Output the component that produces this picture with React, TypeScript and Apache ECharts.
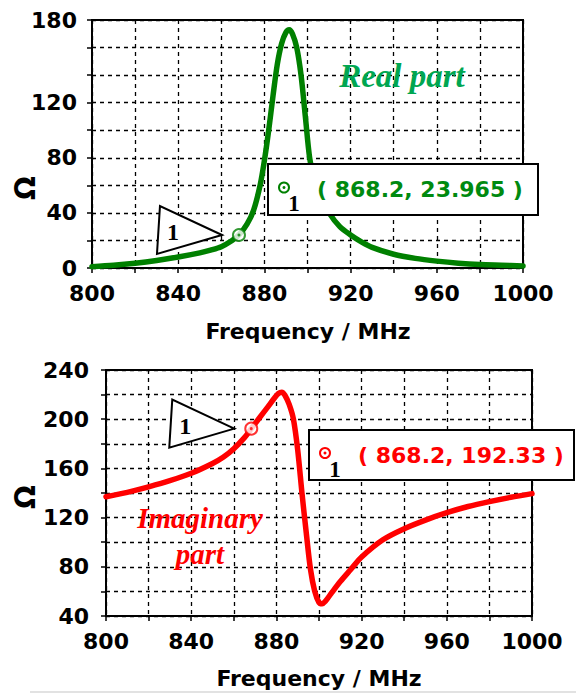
import React, { useEffect, useRef } from "react";
import * as echarts from "echarts";

// ---- data ----
const freqTicks = [800, 840, 880, 920, 960, 1000];
const realTicks = [0, 40, 80, 120, 180];
const imagTicks = [40, 80, 120, 160, 200, 240];

const freqReal = [800, 810, 820, 830, 840, 850, 855, 860, 865, 868.2, 872, 875, 878, 880, 882, 884, 886, 888, 890, 891.5, 893, 895, 897, 899, 901, 903, 906, 910, 915, 920, 925, 930, 940, 950, 960, 970, 980, 990, 1000];
const realVals = [1, 2, 3.5, 5.5, 8, 11, 13, 15.5, 20, 24, 32, 42, 60, 78, 100, 125, 148, 163, 171, 173, 170, 160, 140, 110, 80, 66, 52, 40, 30, 24, 19, 15, 10, 7, 5, 3.5, 2.5, 2, 1.5];

const freqImag = [800, 810, 820, 830, 840, 850, 855, 860, 865, 868.2, 872, 876, 879, 881, 882.5, 884, 886, 888, 890, 892, 894, 896, 898, 900, 901.5, 903, 906, 910, 915, 920, 930, 940, 950, 960, 970, 980, 990, 1000];
const imagVals = [137, 140.5, 145, 150, 156, 164, 169, 176, 185, 192.33, 201, 210, 217, 221, 222, 219.5, 212, 200, 175, 140, 108, 78, 60, 51, 50, 52, 59, 68, 78, 88, 102, 111, 118, 124, 129, 133, 136.5, 139.5];

const markerFreq = 868.2;
const markerReal = 23.965;
const markerImag = 192.33;

const GREEN = "#008000";
const GREEN_TXT = "#00a651";
const GREEN_LBL = "#008a10";
const RED = "#ff0000";
const SANS = "DejaVu Sans";
const SERIF = "Liberation Serif";

function axisX(gridIndex: number) {
  return {
    type: "value",
    gridIndex,
    min: 800,
    max: 1000,
    interval: 20,
    axisLine: { show: true, onZero: false, lineStyle: { color: "#000", width: 2 } },
    axisTick: { show: true, length: 5, lineStyle: { color: "#000", width: 1.5 } },
    axisLabel: {
      formatter: (v: number) => (freqTicks.includes(v) ? String(v) : ""),
      fontFamily: SANS,
      fontWeight: "bold",
      fontSize: 22,
      color: "#000",
      margin: 14,
    },
    splitLine: { show: true, lineStyle: { type: [4, 4], color: "#000", width: 1.3 } },
  };
}

function axisY(gridIndex: number, min: number, max: number, ticks: number[], margin: number) {
  return {
    type: "value",
    gridIndex,
    min,
    max,
    interval: 20,
    axisLine: { show: true, onZero: false, lineStyle: { color: "#000", width: 2 } },
    axisTick: { show: true, length: 5, lineStyle: { color: "#000", width: 1.5 } },
    axisLabel: {
      formatter: (v: number) => (ticks.includes(v) ? String(v) : ""),
      fontFamily: SANS,
      fontWeight: "bold",
      fontSize: 22,
      color: "#000",
      margin,
    },
    splitLine: { show: true, lineStyle: { type: [4, 4], color: "#000", width: 1.3 } },
  };
}

function markerGraphics(
  p: number[],
  box: { x: number; y: number; w: number; h: number },
  color: string,
  labelColor: string,
  label: string
) {
  const [mx, my] = p;
  const cy = box.y + box.h / 2;
  return [
    {
      type: "polygon",
      shape: { points: [[mx - 17, my], [mx - 79, my - 29], [mx - 82, my + 19]] },
      style: { fill: "#fff", stroke: "#000", lineWidth: 2 },
      z: 100,
    },
    {
      type: "text",
      x: mx - 66,
      y: my - 3,
      style: { text: "1", font: `bold 24px '${SERIF}'`, fill: "#000", align: "center", verticalAlign: "middle" },
      z: 101,
    },
    {
      type: "rect",
      shape: { x: box.x, y: box.y, width: box.w, height: box.h },
      style: { fill: "#fff", stroke: "#000", lineWidth: 2 },
      z: 100,
    },
    {
      type: "circle",
      shape: { cx: box.x + 16, cy: cy - 2, r: 5 },
      style: { fill: "none", stroke: color, lineWidth: 2 },
      z: 101,
    },
    {
      type: "circle",
      shape: { cx: box.x + 16, cy: cy - 2, r: 1.5 },
      style: { fill: color },
      z: 101,
    },
    {
      type: "text",
      x: box.x + 26,
      y: cy + 14,
      style: { text: "1", font: `bold 23px '${SERIF}'`, fill: "#000", align: "center", verticalAlign: "middle" },
      z: 101,
    },
    {
      type: "text",
      x: box.x + 49,
      y: cy,
      style: { text: label, font: `bold 22px '${SANS}'`, fill: labelColor, align: "left", verticalAlign: "middle" },
      z: 101,
    },
  ];
}

export default function App() {
  const ref = useRef<HTMLDivElement>(null);

  useEffect(() => {
    if (!ref.current) return;
    const chart = echarts.init(ref.current, null, { renderer: "svg" });
    const realData = freqReal.map((f, i) => [f, realVals[i]]);
    const imagData = freqImag.map((f, i) => [f, imagVals[i]]);

    chart.setOption({
      animation: false,
      backgroundColor: "#fff",
      grid: [
        { left: 92, top: 20, width: 431, height: 248, show: true, borderColor: "#000", borderWidth: 2 },
        { left: 106, top: 370, width: 426, height: 246, show: true, borderColor: "#000", borderWidth: 2 },
      ],
      xAxis: [axisX(0), axisX(1)],
      yAxis: [axisY(0, 0, 180, realTicks, 15), axisY(1, 40, 240, imagTicks, 17)],
      series: [
        {
          type: "line",
          xAxisIndex: 0,
          yAxisIndex: 0,
          data: realData,
          showSymbol: false,
          symbol: "none",
          smooth: 0.3,
          lineStyle: { color: GREEN, width: 5.5, cap: "round", join: "round" },
          z: 5,
        },
        {
          type: "line",
          xAxisIndex: 1,
          yAxisIndex: 1,
          data: imagData,
          showSymbol: false,
          symbol: "none",
          smooth: 0.3,
          lineStyle: { color: RED, width: 5.5, cap: "round", join: "round" },
          z: 5,
        },
        {
          type: "scatter",
          xAxisIndex: 0,
          yAxisIndex: 0,
          data: [[markerFreq, markerReal]],
          symbol: "circle",
          symbolSize: 12,
          itemStyle: { color: "#fff", borderColor: GREEN, borderWidth: 2 },
          z: 10,
        },
        {
          type: "scatter",
          xAxisIndex: 0,
          yAxisIndex: 0,
          data: [[markerFreq, markerReal]],
          symbol: "circle",
          symbolSize: 3,
          itemStyle: { color: GREEN },
          z: 11,
        },
        {
          type: "scatter",
          xAxisIndex: 1,
          yAxisIndex: 1,
          data: [[markerFreq, markerImag]],
          symbol: "circle",
          symbolSize: 12,
          itemStyle: { color: "#fff", borderColor: RED, borderWidth: 2 },
          z: 10,
        },
        {
          type: "scatter",
          xAxisIndex: 1,
          yAxisIndex: 1,
          data: [[markerFreq, markerImag]],
          symbol: "circle",
          symbolSize: 3,
          itemStyle: { color: RED },
          z: 11,
        },
      ],
    });

    const p1 = chart.convertToPixel({ gridIndex: 0 }, [markerFreq, markerReal]) as number[];
    const p2 = chart.convertToPixel({ gridIndex: 1 }, [markerFreq, markerImag]) as number[];

    chart.setOption({
      graphic: [
        {
          type: "line",
          shape: { x1: 30, y1: 692, x2: 576, y2: 692 },
          style: { stroke: "#e2e2e2", lineWidth: 2 },
          z: 1,
        },
        {
          type: "text",
          x: 25,
          y: 188,
          rotation: Math.PI / 2,
          style: { text: "Ω", font: `bold 28px '${SANS}'`, fill: "#000", align: "center", verticalAlign: "middle" },
        },
        {
          type: "text",
          x: 25,
          y: 497,
          rotation: Math.PI / 2,
          style: { text: "Ω", font: `bold 28px '${SANS}'`, fill: "#000", align: "center", verticalAlign: "middle" },
        },
        {
          type: "text",
          x: 308,
          y: 331,
          style: { text: "Frequency / MHz", font: `bold 22px '${SANS}'`, fill: "#000", align: "center", verticalAlign: "middle" },
        },
        {
          type: "text",
          x: 319,
          y: 678,
          style: { text: "Frequency / MHz", font: `bold 22px '${SANS}'`, fill: "#000", align: "center", verticalAlign: "middle" },
          z: 5,
        },
        {
          type: "text",
          x: 402,
          y: 76,
          style: { text: "Real part", font: `italic bold 33px '${SERIF}'`, fill: GREEN_TXT, align: "center", verticalAlign: "middle" },
          z: 50,
        },
        {
          type: "text",
          x: 200,
          y: 518,
          style: { text: "Imaginary", font: `italic bold 29px '${SERIF}'`, fill: RED, align: "center", verticalAlign: "middle" },
          z: 50,
        },
        {
          type: "text",
          x: 200,
          y: 554,
          style: { text: "part", font: `italic bold 29px '${SERIF}'`, fill: RED, align: "center", verticalAlign: "middle" },
          z: 50,
        },
        ...markerGraphics(p1, { x: 268, y: 164, w: 270, h: 51 }, GREEN, GREEN_LBL, `( ${markerFreq}, ${markerReal} )`),
        ...markerGraphics(p2, { x: 309, y: 430, w: 265, h: 50 }, RED, RED, `( ${markerFreq}, ${markerImag} )`),
      ],
    });

    return () => chart.dispose();
  }, []);

  return (
    <div style={{ position: "fixed", left: 0, top: 0, width: 576, height: 695, background: "#fff" }}>
      <div ref={ref} style={{ width: 576, height: 695 }} />
    </div>
  );
}
